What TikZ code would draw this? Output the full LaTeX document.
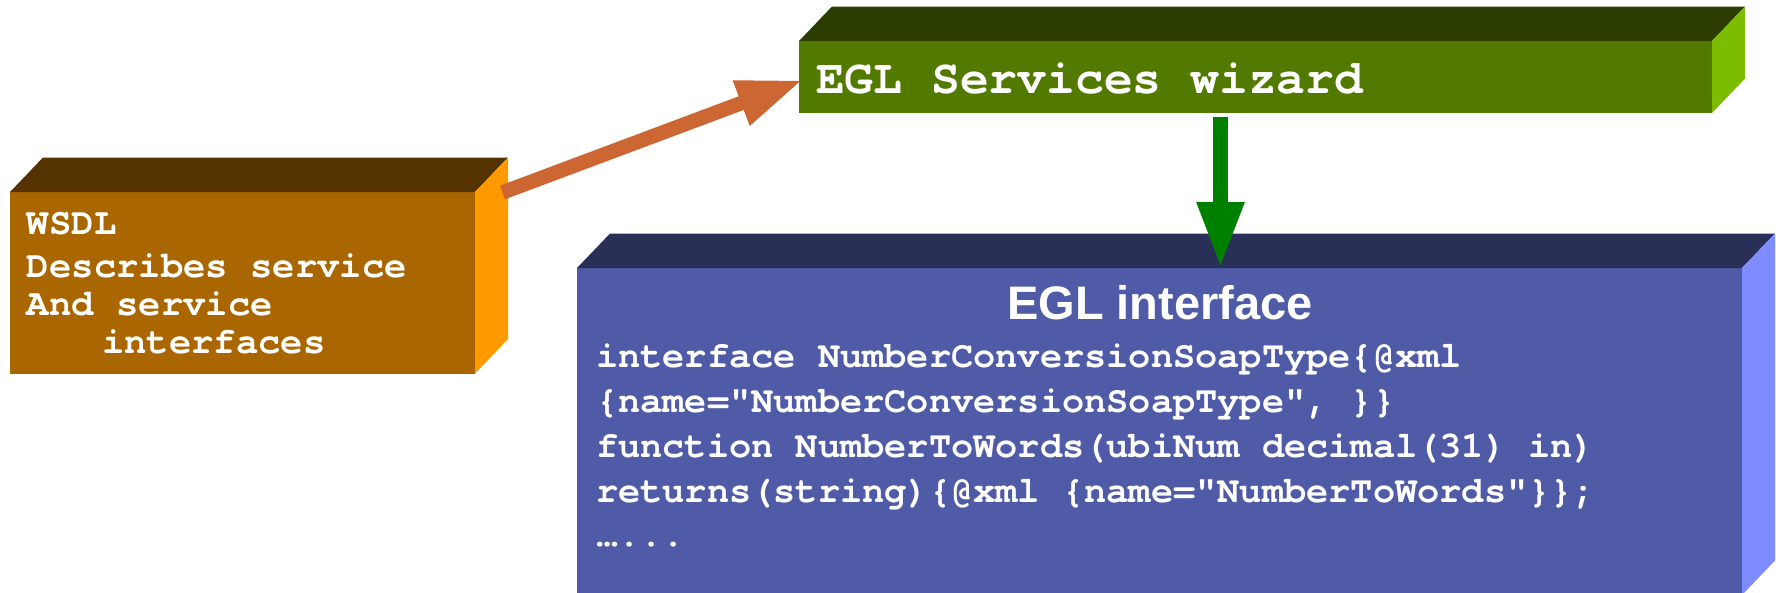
\documentclass[tikz,border=0pt]{standalone}
\usepackage{fontspec}
\setmonofont{texgyrecursor}[Extension=.otf, UprightFont=*-regular, BoldFont=*-bold]
\newfontfamily\headfont{Liberation Sans}
\usetikzlibrary{arrows.meta,calc}

\definecolor{wsdlfront}{HTML}{AA6600}
\definecolor{wsdltop}{HTML}{553300}
\definecolor{wsdlside}{HTML}{FF9900}
\definecolor{eglfront}{HTML}{527A00}
\definecolor{egltop}{HTML}{2B3D00}
\definecolor{eglside}{HTML}{7DBD00}
\definecolor{ifront}{HTML}{505BA8}
\definecolor{itop}{HTML}{2A2F57}
\definecolor{iside}{HTML}{7F8CFF}
\definecolor{linkorange}{HTML}{CC6633}
\definecolor{linkgreen}{HTML}{008000}

% top and right faces of a slab whose front face is node #1
\newcommand\slabfaces[3]{%
  \fill[#2] (#1.north west) -- ++(33,-34.5) -- ($(#1.north east)+(33,-34.5)$)
            -- (#1.north east) -- cycle;
  \fill[#3] (#1.north east) -- ++(33,-34.5) -- ($(#1.south east)+(33,-34.5)$)
            -- (#1.south east) -- cycle;
}

\begin{document}
\begin{tikzpicture}[x=1pt,y=-1pt,
  face/.style={rectangle, inner sep=0pt, outer sep=0pt, anchor=north west, draw=none},
  codeline/.style={inner sep=0pt, outer sep=0pt, anchor=base west, text=white,
    font=\ttfamily\bfseries\fontsize{37.25}{38}\selectfont},
  bigcode/.style={codeline, font=\ttfamily\bfseries\fontsize{48}{48}\selectfont},
  listing/.style={codeline, font=\ttfamily\bfseries\fontsize{37}{45}\selectfont},
  heading/.style={inner sep=0pt, outer sep=0pt, anchor=base, text=white,
    font=\headfont\bfseries\fontsize{47}{47}\selectfont},
  link/.style={line width=14.5pt, -{Triangle[length=66pt,width=44pt]}},
]
\useasboundingbox (0,0) rectangle (1776,592);
\clip (0,0) rectangle (1776,592);

% slabs
\node[face, fill=wsdlfront, minimum width=465pt, minimum height=181.5pt] (wsdl) at (10,192) {};
\slabfaces{wsdl}{wsdltop}{wsdlside}

\node[face, fill=eglfront, minimum width=913pt, minimum height=72pt] (egl) at (799,41) {};
\slabfaces{egl}{egltop}{eglside}

\node[face, fill=ifront, minimum width=1165pt, minimum height=327pt] (iface) at (577,268) {};
\slabfaces{iface}{itop}{iside}

% WSDL text
\node[codeline] (w1) at (27,234.5) {WSDL};
\node[codeline] (w2) at (27,277) {Describes service};
\node[codeline] (w3) at (27,315.5) {And service};
\node[codeline] (w4) at (102,353.5) {interfaces};

% wizard text
\node[bigcode] (g1) at (816,93) {EGL Services wizard};

% interface text
\node[heading] (ititle) at (1160,319) {EGL interface};
\node[listing] (c1) at (596,367) {interface NumberConversionSoapType\{@xml};
\node[listing] (c2) at (596,412) {\{name="NumberConversionSoapType", \}\}};
\node[listing] (c3) at (596,457) {function NumberToWords(ubiNum decimal(31) in)};
\node[listing] (c4) at (596,502) {returns(string)\{@xml \{name="NumberToWords"\}\};};
\node[listing] (c5) at (596,546.5) {…...};

% connectors
\coordinate (wsdltail) at ($(wsdl.north east)+(27.5,0.5)$);
\draw[link, linkorange] (wsdltail) -- ($(egl.west)+(4,3)$);
\coordinate (eglfoot) at ($(egl.south west)+(421.5,4)$);
\draw[link, linkgreen] (eglfoot) -- (eglfoot |- iface.north);
\end{tikzpicture}
\end{document}
